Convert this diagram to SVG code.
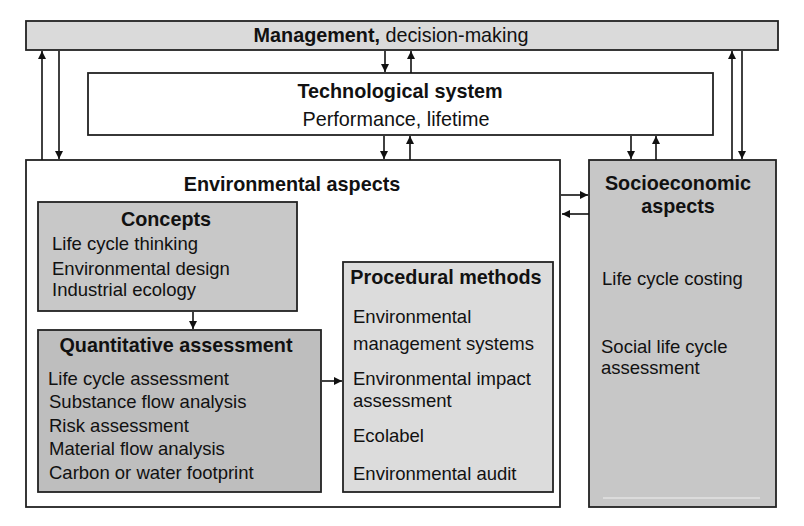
<svg xmlns="http://www.w3.org/2000/svg" width="804" height="526" viewBox="0 0 804 526">
<style>
text { font-family: "Liberation Sans", Arial, sans-serif; fill: #111; }
.t { font-size: 19.8px; font-weight: bold; }
.i { font-size: 18.5px; }
.box { stroke: #222; stroke-width: 1.8; }
.c { stroke: #111; stroke-width: 1.6; fill: none; marker-end: url(#ah); }
</style>
<defs>
<marker id="ah" viewBox="0 0 10 10" refX="10" refY="5" markerWidth="9" markerHeight="8" markerUnits="userSpaceOnUse" orient="auto">
<path d="M0,0 L10,5 L0,10 z" fill="#111"/>
</marker>
</defs>
<rect width="804" height="526" fill="#fff"/>

<g id="management">
<rect class="box" x="26" y="21" width="752" height="29" fill="#dadada"/>
<text x="391" y="42" text-anchor="middle" font-size="19.8px"><tspan font-weight="bold">Management,</tspan> decision-making</text>
</g>

<g id="technological">
<rect class="box" x="88" y="73" width="625" height="62" fill="#fff"/>
<text class="t" x="400" y="98" text-anchor="middle">Technological system</text>
<text x="396" y="126" text-anchor="middle" font-size="19.8px">Performance, lifetime</text>
</g>

<g id="environmental">
<rect class="box" x="26" y="160" width="534" height="347" fill="#fff"/>
<text class="t" x="292" y="191" text-anchor="middle">Environmental aspects</text>
</g>

<g id="concepts">
<rect class="box" x="38" y="202" width="259" height="109" fill="#c8c8c8"/>
<text class="t" x="166" y="226" text-anchor="middle">Concepts</text>
<text class="i" x="52" y="250">Life cycle thinking</text>
<text class="i" x="52" y="274.5">Environmental design</text>
<text class="i" x="52" y="296">Industrial ecology</text>
</g>

<g id="quantitative">
<rect class="box" x="38" y="330" width="283" height="162" fill="#bebebe"/>
<text class="t" x="176" y="352" text-anchor="middle">Quantitative assessment</text>
<text class="i" x="48" y="385">Life cycle assessment</text>
<text class="i" x="49" y="408">Substance flow analysis</text>
<text class="i" x="49" y="431.5">Risk assessment</text>
<text class="i" x="49" y="455">Material flow analysis</text>
<text class="i" x="49" y="479">Carbon or water footprint</text>
</g>

<g id="procedural">
<rect class="box" x="343" y="262" width="210" height="230" fill="#dcdcdc"/>
<text class="t" x="446" y="284" text-anchor="middle">Procedural methods</text>
<text class="i" x="353" y="323">Environmental</text>
<text class="i" x="353" y="349.5">management systems</text>
<text class="i" x="353" y="385">Environmental impact</text>
<text class="i" x="353" y="406.5">assessment</text>
<text class="i" x="353" y="441.5">Ecolabel</text>
<text class="i" x="353" y="480">Environmental audit</text>
</g>

<g id="socioeconomic">
<rect class="box" x="589" y="160" width="187" height="347" fill="#c7c7c7"/>
<line x1="603" y1="498" x2="760" y2="498" stroke="#e2e2e2" stroke-width="1.5"/>
<text class="t" x="678" y="190" text-anchor="middle">Socioeconomic</text>
<text class="t" x="678" y="213" text-anchor="middle">aspects</text>
<text class="i" x="602" y="285">Life cycle costing</text>
<text class="i" x="601" y="352.5">Social life cycle</text>
<text class="i" x="601" y="373.5">assessment</text>
</g>

<g id="connectors">
<line class="c" x1="42" y1="160" x2="42" y2="51"/>
<line class="c" x1="59" y1="51" x2="59" y2="159"/>
<line class="c" x1="385" y1="51" x2="385" y2="72"/>
<line class="c" x1="411" y1="73" x2="411" y2="51"/>
<line class="c" x1="384" y1="136" x2="384" y2="159"/>
<line class="c" x1="410" y1="160" x2="410" y2="136"/>
<line class="c" x1="631" y1="136" x2="631" y2="159"/>
<line class="c" x1="656" y1="160" x2="656" y2="136"/>
<line class="c" x1="732" y1="160" x2="732" y2="51"/>
<line class="c" x1="742" y1="51" x2="742" y2="159"/>
<line class="c" x1="561" y1="195" x2="588" y2="195"/>
<line class="c" x1="589" y1="214" x2="562" y2="214"/>
<line class="c" x1="193" y1="312" x2="193" y2="329"/>
<line class="c" x1="322" y1="381" x2="342" y2="381"/>
</g>
</svg>
